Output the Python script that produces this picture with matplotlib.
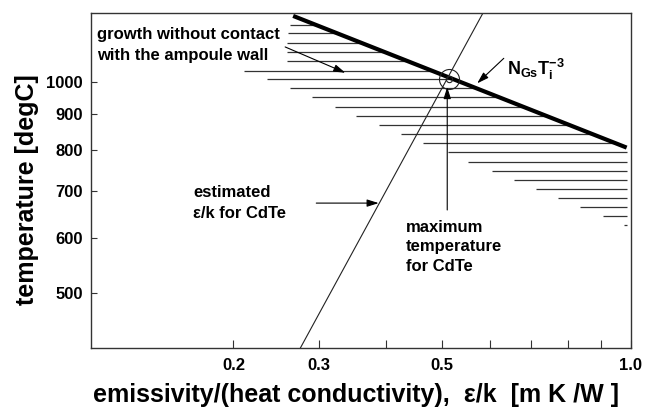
import numpy as np
import matplotlib
matplotlib.use("Agg")
import matplotlib.pyplot as plt
from matplotlib.ticker import NullLocator

# emissivity/conductivity (m K / W) vs growth temperature (degC)

# N_Gs * Ti^-3 limit (thick line)
limit_x = [0.267, 0.986]
limit_T = [1241, 806]

# estimated eps/k for CdTe (thin line)
cdte_x = [0.276, 0.585]
cdte_T = [418, 1253]

# hatched region: one horizontal line per level
hatch_T = [1205, 1173, 1137, 1102, 1071, 1037, 1009, 979, 950, 920, 894, 868,
           843, 818, 794, 770, 747, 725, 704, 684, 664, 645, 626]
hatch_x0 = [0.2635, 0.2611, 0.2598, 0.2598, 0.2598, 0.2110, 0.2364, 0.2635,
            0.2912, 0.3222, 0.3529, 0.3886, 0.4254, 0.4643, 0.5106, 0.5534,
            0.6042, 0.6559, 0.7115, 0.7710, 0.8347, 0.9061, 0.9758]
hatch_x1 = [0.2962, 0.3247, 0.3597, 0.3980, 0.4355, 0.4798, 0.5226, 0.5701,
            0.6237, 0.6828, 0.7401, 0.8041, 0.8721, 0.9479, 0.986, 0.986,
            0.986, 0.986, 0.986, 0.986, 0.986, 0.986, 0.986]

# crossing point = maximum temperature for CdTe
cross_x = 0.513
cross_T = 1009

xticks = [0.2, 0.3, 0.4, 0.5, 0.6, 0.7, 0.8, 0.9, 1.0]
xticklabels = ["0.2", "0.3", "", "0.5", "", "", "", "", "1.0"]
yticks = [500, 600, 700, 800, 900, 1000]
yticklabels = ["500", "600", "700", "800", "900", "1000"]

plt.rcParams["font.family"] = ["Liberation Sans", "DejaVu Sans"]
plt.rcParams["font.weight"] = "bold"
plt.rcParams["axes.labelweight"] = "bold"

SHIFT = 0.13


def fwd(x):
    return np.log10(np.asarray(x) + SHIFT)


def inv(y):
    return 10 ** np.asarray(y) - SHIFT


fig = plt.figure(figsize=(6.45, 4.08), dpi=100)
ax = fig.add_axes([0.1411, 0.1471, 0.8367, 0.8211])

ax.set_xscale("function", functions=(fwd, inv))
ax.set_yscale("log")
ax.set_xlim(0.0822, 1.0)
ax.set_ylim(418, 1253)

ax.hlines(hatch_T, hatch_x0, hatch_x1, color="#333333", lw=0.9)
ax.plot(limit_x, limit_T, color="black", lw=3.0, solid_capstyle="butt")
ax.plot(cdte_x, cdte_T, color="#222222", lw=0.8)
ax.plot([cross_x], [cross_T], "o", mfc="none", mec="#222222", ms=14.4, mew=0.8)
ax.plot([cross_x], [cross_T], "o", mfc="none", mec="#222222", ms=4.5, mew=0.8)

arrow = dict(arrowstyle="-|>,head_length=0.7,head_width=0.22", color="black", lw=0.8,
             shrinkA=0, shrinkB=0)
ax.annotate("", xy=(0.3367, 1030), xytext=(0.2573, 1121), arrowprops=arrow)
ax.annotate("", xy=(0.3875, 672), xytext=(0.2965, 672), arrowprops=arrow)
ax.annotate("", xy=(0.510, 983), xytext=(0.510, 657), arrowprops=arrow)
ax.annotate("", xy=(0.5723, 995), xytext=(0.6326, 1080), arrowprops=arrow)

ax.text(0.011, 0.905, "growth without contact\nwith the ampoule wall", transform=ax.transAxes,
        fontsize=12, ha="left", va="center", linespacing=1.45)
ax.text(0.189, 0.434, "estimated\nε/k for CdTe", transform=ax.transAxes,
        fontsize=12, ha="left", va="center", linespacing=1.5)
ax.text(0.5837, 0.3015, "maximum\ntemperature\nfor CdTe", transform=ax.transAxes,
        fontsize=12, ha="left", va="center", linespacing=1.4)
ax.text(0.770, 0.830, r"N$_\mathregular{Gs}$T$_\mathregular{i}^\mathregular{-3}$",
        transform=ax.transAxes, fontsize=13, ha="left", va="center")

ax.set_xticks(xticks)
ax.set_xticklabels(xticklabels)
ax.set_yticks(yticks)
ax.set_yticklabels(yticklabels)
ax.xaxis.set_minor_locator(NullLocator())
ax.yaxis.set_minor_locator(NullLocator())
ax.tick_params(direction="in", labelsize=12, color="#333333")
ax.tick_params(axis="x", length=6, pad=7)
ax.tick_params(axis="y", length=4, pad=6)
for s in ax.spines.values():
    s.set_color("#333333")
    s.set_linewidth(1.0)

ax.set_xlabel("emissivity/(heat conductivity),  ε/k  [m K /W ]", fontsize=18, fontweight="bold")
ax.set_ylabel("temperature [degC]", fontsize=18, fontweight="bold")
ax.xaxis.set_label_coords(0.491, -0.105)
ax.yaxis.set_label_coords(-0.097, 0.4716)

fig.savefig("out.png", dpi=100)
